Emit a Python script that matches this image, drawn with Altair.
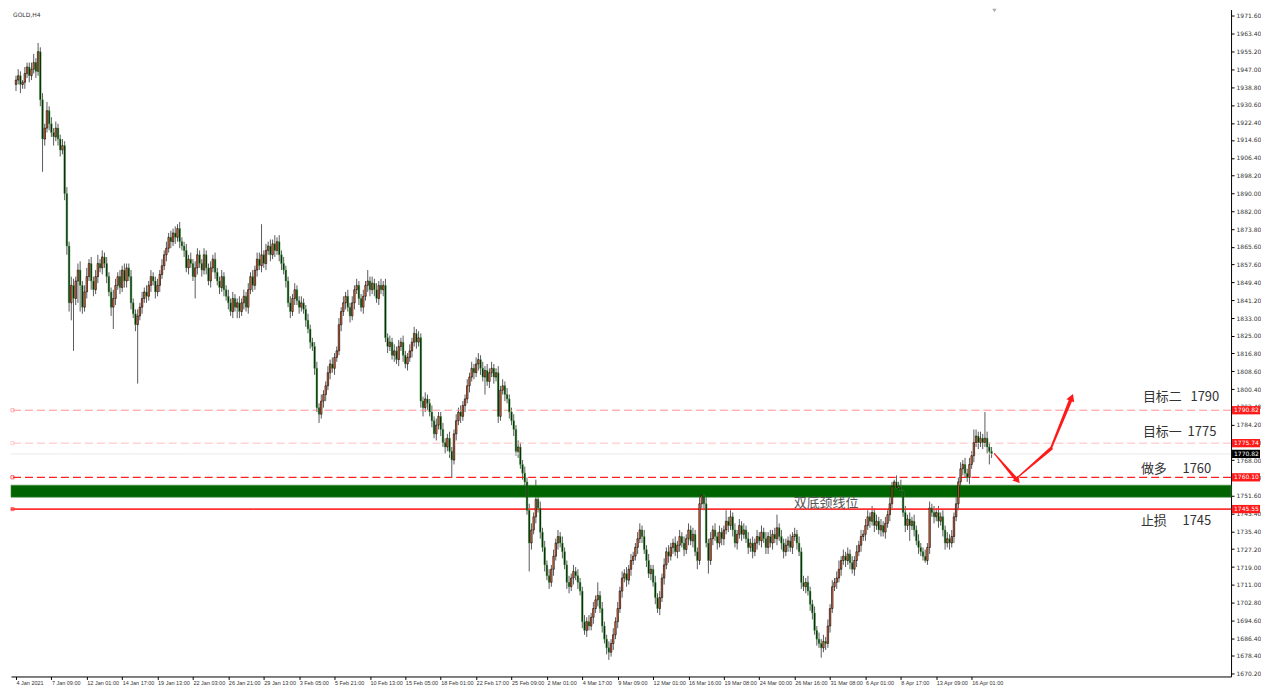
import json
import altair as alt
import pandas as pd

# ---------------- data ----------------
first_open = 1940
closes = [
    1942, 1944, 1940, 1941, 1945, 1948, 1944, 1947, 1950, 1946,
    1955, 1933, 1915, 1920, 1928, 1922, 1918, 1916, 1920, 1915,
    1910, 1912, 1890, 1866, 1840, 1848, 1842, 1850, 1855, 1848,
    1838, 1845, 1852, 1858, 1850, 1846, 1852, 1858, 1856, 1861,
    1858, 1852, 1845, 1838, 1842, 1848, 1852, 1847, 1855, 1850,
    1856, 1852, 1840, 1835, 1830, 1834, 1838, 1842, 1845, 1843,
    1848, 1852, 1850, 1845, 1848, 1853, 1857, 1862, 1865, 1870,
    1868, 1872, 1870, 1874, 1868, 1866, 1864, 1856, 1860, 1858,
    1852, 1856, 1862, 1858, 1855, 1862, 1856, 1850, 1856, 1860,
    1854, 1850, 1847, 1852, 1846, 1843, 1840, 1836, 1842, 1838,
    1840, 1836, 1840, 1843, 1838, 1846, 1852, 1848, 1855, 1860,
    1857, 1862, 1858, 1864, 1866, 1862, 1867, 1864, 1868, 1862,
    1858, 1855, 1850, 1840, 1836, 1842, 1846, 1841, 1838, 1840,
    1837, 1832, 1828, 1822, 1820, 1810, 1792, 1789, 1795, 1798,
    1802, 1808, 1812, 1810, 1815, 1818, 1830, 1836, 1840, 1843,
    1838, 1834, 1840, 1846, 1848, 1842, 1838, 1843, 1848, 1850,
    1846, 1849, 1846, 1842, 1848, 1846, 1848, 1824, 1820, 1822,
    1816, 1818, 1814, 1820, 1822, 1816, 1812, 1815, 1818, 1822,
    1826, 1822, 1824, 1795, 1792, 1796, 1794, 1790, 1786, 1780,
    1784, 1788, 1782, 1776, 1774, 1778, 1772, 1768, 1780, 1786,
    1790, 1788, 1793, 1796, 1802, 1806, 1810, 1808, 1812, 1814,
    1810, 1806, 1809, 1804, 1808, 1810, 1806, 1808, 1788, 1800,
    1802, 1798, 1796, 1790, 1786, 1782, 1772, 1774, 1766, 1762,
    1758, 1745, 1730, 1736, 1742, 1750, 1746, 1735, 1728, 1720,
    1715, 1712, 1718, 1724, 1730, 1733, 1730, 1726, 1720, 1712,
    1710, 1714, 1717, 1715, 1712, 1708, 1694, 1690, 1694, 1692,
    1696, 1700, 1704, 1706, 1700, 1692, 1686, 1682, 1680, 1684,
    1688, 1694, 1700, 1708, 1714, 1716, 1713, 1718, 1722, 1724,
    1728, 1732, 1736, 1733, 1727, 1722, 1716, 1718, 1712, 1705,
    1700, 1705, 1714, 1720, 1726, 1724, 1728, 1730, 1726, 1729,
    1733, 1730, 1727, 1732, 1736, 1731, 1734, 1726, 1722, 1748,
    1752, 1748, 1730, 1722, 1732, 1736, 1733, 1730, 1735, 1732,
    1736, 1740, 1738, 1742, 1736, 1730, 1734, 1738, 1734, 1736,
    1732, 1728, 1730, 1726, 1730, 1733, 1731, 1735, 1732, 1728,
    1733, 1730, 1734, 1732, 1737, 1733, 1730, 1726, 1729, 1731,
    1728, 1733, 1734, 1730, 1726, 1712, 1710, 1712, 1708, 1702,
    1698, 1690, 1686, 1684, 1682, 1685, 1684, 1692, 1700, 1710,
    1712, 1714, 1718, 1722, 1724, 1722, 1725, 1721, 1718, 1722,
    1726, 1729, 1733, 1734, 1738, 1742, 1740, 1744, 1738, 1740,
    1736, 1738, 1735, 1739, 1743, 1748, 1756, 1758, 1755, 1756,
    1754, 1744, 1738, 1741, 1738, 1740, 1736, 1731, 1728, 1726,
    1724, 1722, 1728, 1746, 1744, 1742, 1744, 1740, 1742, 1736,
    1730, 1732, 1730, 1733, 1742, 1748, 1758, 1764, 1766, 1762,
    1760, 1766, 1770, 1776, 1779, 1776, 1778, 1776, 1778, 1774,
    1772, 1771,
]
upper_wick = [
    2, 3, 2, 1, 3, 2, 2, 3, 4, 2,
    4, 2, 3, 2, 4, 2, 3, 2, 3, 2,
    2, 3, 2, 3, 2, 4, 3, 2, 3, 4,
    2, 3, 4, 2, 3, 2, 3, 4, 2, 3,
    2, 3, 2, 2, 4, 3, 2, 3, 2, 3,
    2, 2, 3, 2, 2, 3, 2, 3, 2, 3,
    2, 3, 2, 2, 3, 2, 3, 2, 3, 2,
    3, 2, 3, 2, 3, 2, 2, 3, 2, 3,
    2, 3, 3, 2, 2, 3, 2, 2, 3, 2,
    3, 2, 2, 3, 2, 2, 3, 2, 3, 2,
    2, 3, 2, 3, 2, 3, 2, 3, 2, 3,
    3, 14, 2, 3, 2, 3, 2, 4, 2, 3,
    2, 3, 2, 2, 3, 2, 3, 2, 2, 3,
    2, 2, 3, 2, 2, 2, 3, 2, 3, 2,
    2, 3, 2, 3, 2, 2, 3, 2, 3, 2,
    3, 2, 3, 2, 3, 2, 2, 3, 2, 5,
    2, 3, 2, 3, 2, 3, 2, 3, 2, 3,
    2, 3, 2, 3, 2, 3, 2, 2, 3, 2,
    3, 2, 3, 2, 2, 3, 2, 2, 3, 2,
    3, 2, 2, 3, 2, 2, 3, 2, 2, 3,
    2, 3, 2, 2, 3, 2, 3, 2, 3, 3,
    2, 3, 2, 3, 2, 3, 2, 2, 3, 2,
    3, 2, 3, 2, 2, 3, 2, 3, 2, 2,
    3, 2, 3, 3, 2, 9, 2, 3, 2, 3,
    2, 3, 2, 3, 2, 3, 2, 3, 2, 2,
    3, 2, 3, 2, 3, 2, 2, 3, 2, 3,
    2, 3, 2, 6, 2, 3, 2, 2, 3, 2,
    3, 2, 3, 2, 3, 2, 3, 2, 3, 2,
    2, 3, 3, 2, 3, 2, 3, 2, 2, 3,
    2, 3, 2, 3, 2, 3, 2, 2, 3, 2,
    3, 2, 3, 2, 3, 2, 3, 2, 2, 3,
    4, 2, 3, 2, 3, 2, 3, 2, 3, 2,
    2, 5, 2, 3, 2, 3, 2, 3, 2, 3,
    2, 3, 2, 3, 2, 3, 2, 3, 2, 3,
    2, 3, 2, 3, 6, 2, 3, 2, 3, 2,
    3, 2, 3, 2, 3, 2, 3, 2, 3, 2,
    2, 3, 2, 3, 2, 3, 2, 3, 2, 3,
    2, 3, 4, 2, 3, 2, 3, 2, 3, 2,
    3, 2, 3, 2, 3, 3, 2, 3, 2, 3,
    2, 3, 2, 3, 2, 3, 2, 1, 3, 2,
    3, 2, 3, 2, 3, 2, 3, 2, 3, 2,
    2, 3, 2, 3, 2, 3, 2, 3, 2, 3,
    2, 3, 2, 3, 2, 3, 2, 3, 2, 3,
    2, 3, 2, 6, 3, 2, 3, 2, 12, 3,
    2, 2,
]
lower_wick = [
    3, 2, 4, 2, 3, 2, 3, 2, 2, 3,
    2, 3, 15, 3, 2, 3, 2, 4, 2, 3,
    3, 2, 3, 4, 4, 8, 24, 3, 10, 12,
    3, 2, 3, 2, 4, 3, 2, 3, 2, 3,
    2, 3, 2, 4, 10, 3, 2, 3, 2, 3,
    3, 2, 3, 2, 3, 27, 2, 3, 2, 3,
    2, 3, 2, 3, 2, 3, 2, 2, 3, 2,
    3, 2, 3, 2, 3, 2, 3, 2, 3, 2,
    2, 10, 3, 2, 3, 2, 3, 2, 3, 2,
    3, 2, 3, 2, 3, 2, 3, 2, 3, 2,
    5, 3, 2, 3, 2, 3, 2, 3, 2, 3,
    2, 3, 2, 3, 2, 3, 2, 3, 2, 3,
    3, 2, 3, 2, 3, 2, 3, 2, 3, 2,
    2, 3, 2, 3, 2, 3, 2, 4, 2, 3,
    3, 2, 3, 2, 3, 2, 2, 3, 2, 3,
    2, 3, 2, 3, 2, 3, 2, 3, 2, 3,
    3, 2, 3, 2, 3, 2, 3, 2, 3, 2,
    2, 3, 2, 3, 2, 3, 2, 3, 2, 3,
    2, 3, 2, 3, 4, 2, 3, 2, 3, 2,
    3, 2, 3, 2, 3, 2, 3, 8, 2, 3,
    2, 3, 2, 3, 2, 3, 2, 3, 2, 3,
    3, 2, 8, 2, 3, 2, 3, 2, 3, 2,
    2, 3, 2, 3, 2, 3, 2, 3, 2, 3,
    3, 2, 13, 3, 2, 3, 2, 3, 2, 3,
    2, 3, 2, 3, 2, 3, 2, 3, 2, 3,
    3, 2, 3, 2, 3, 2, 3, 2, 3, 2,
    2, 3, 2, 3, 2, 3, 2, 3, 3.5, 2,
    3, 2, 3, 2, 3, 2, 3, 2, 3, 2,
    2, 3, 2, 3, 2, 3, 2, 3, 2, 3,
    2, 3, 2, 3, 2, 3, 2, 3, 2, 3,
    3, 2, 3, 2, 3, 2, 3, 2, 4, 2,
    2, 3, 2, 6, 2, 3, 2, 3, 2, 3,
    3, 2, 3, 2, 3, 2, 3, 2, 3, 2,
    2, 3, 2, 3, 2, 3, 2, 3, 2, 3,
    3, 2, 3, 2, 3, 2, 3, 3, 2, 3,
    2, 3, 2, 3, 2, 3, 2, 3, 2, 3,
    3, 2, 3, 2, 4.5, 2, 3, 2, 3, 2,
    2, 3, 2, 3, 2, 3, 2, 3, 2, 3,
    3, 2, 3, 2, 3, 2, 3, 2, 3, 2,
    2, 3, 2, 3, 2, 3, 2, 3, 2, 3,
    3, 2, 3, 2, 7, 2, 3, 2, 3, 2,
    2, 1, 2, 3, 2, 3, 2, 3, 2, 3,
    3, 2, 3, 2, 3, 2, 3, 2, 3, 2,
    2, 3, 2, 3, 2, 3, 2, 3, 2, 3,
    6, 2,
]

x_labels = ["4 Jan 2021", "7 Jan 09:00", "12 Jan 01:00", "14 Jan 17:00", "19 Jan 13:00",
            "22 Jan 03:00", "26 Jan 21:00", "29 Jan 13:00", "3 Feb 05:00", "5 Feb 21:00",
            "10 Feb 13:00", "15 Feb 05:00", "18 Feb 01:00", "22 Feb 17:00", "25 Feb 09:00",
            "2 Mar 01:00", "4 Mar 17:00", "9 Mar 09:00", "12 Mar 01:00", "16 Mar 16:00",
            "19 Mar 08:00", "24 Mar 00:00", "26 Mar 16:00", "31 Mar 08:00", "6 Apr 01:00",
            "8 Apr 17:00", "13 Apr 09:00", "16 Apr 01:00"]
y_ticks = [1971.6, 1963.4, 1955.2, 1947.0, 1938.8, 1930.6, 1922.4, 1914.6, 1906.4, 1898.2,
           1890.0, 1882.0, 1873.8, 1865.6, 1857.6, 1849.4, 1841.2, 1833.0, 1825.0, 1816.8,
           1808.6, 1800.4, 1792.4, 1784.2, 1776.0, 1768.0, 1759.8, 1751.6, 1743.4, 1735.4,
           1727.2, 1719.0, 1711.0, 1702.8, 1694.6, 1686.4, 1678.4, 1670.2]

level_target2 = 1790.82
level_target1 = 1775.74
level_ask = 1770.82
level_long = 1760.10
level_stop = 1745.55
band_low, band_high = 1751.0, 1756.5

box_labels = ["1790.82", "1775.74", "1770.82", "1760.10", "1745.55"]
box_prices = [1790.82, 1775.74, 1770.82, 1760.10, 1745.55]
box_colors = ["#ff1a1a", "#ff1a1a", "#000000", "#ff1a1a", "#ff1a1a"]

ann_names = ["目标二", "目标一", "做多", "止损"]
ann_values = ["1790", "1775", "1760", "1745"]
ann_prices = [1797.1, 1780.7, 1763.8, 1740.3]
ann_name_x = [509.4, 509.4, 508.5, 508.5]
ann_value_x = [530.9, 529.6, 527.3, 527.3]

arrow_seg = [1, 1, 2, 2, 3, 3]
arrow_x = [442.3, 452.0, 452.0, 467.8, 467.8, 476.7]
arrow_p = [1770.9, 1759.4, 1759.4, 1773.2, 1773.2, 1795.4]
arrow_w = [1.2, 3.5, 1.2, 3.5, 2.0, 3.5]

# ---------------- layout ----------------
W, H = 1222, 668
XMAX = 547
YMIN, YMAX = 1668.9, 1974.3

opens = [first_open] + closes[:-1]
rows = []
for i, (o, c, u, l) in enumerate(zip(opens, closes, upper_wick, lower_wick)):
    up = c >= o
    rows.append(dict(i=i, open=o, close=c, high=max(o, c) + u, low=min(o, c) - l,
                     fillc="#ef6b3a" if up else "#000000",
                     strokec="#000000" if up else "#3a9f3a"))
df = pd.DataFrame(rows)

xs = alt.Scale(domain=[0, XMAX], nice=False, zero=False)
ys = alt.Scale(domain=[YMIN, YMAX], nice=False, zero=False)

x_axis = alt.Axis(values=list(range(0, 16 * len(x_labels), 16)),
                  labelExpr=json.dumps(x_labels) + "[round(datum.value/16)]",
                  labelAlign="left", labelFontSize=5.5, labelColor="#333333",
                  labelFont="Liberation Sans", tickSize=3, tickColor="#000000",
                  domainColor="#000000", labelPadding=1, labelOverlap=False, labelFlush=False,
                  labelBound=False, grid=False, title=None)
y_axis = alt.Axis(orient="right", values=y_ticks, format=".2f", labelFontSize=6,
                  labelColor="#333333", labelFont="DejaVu Sans", tickSize=3, tickColor="#000000",
                  domainColor="#000000", labelPadding=2, labelOverlap=False, labelFlush=False,
                  labelBound=False, grid=False, title=None)


def X(field="i"):
    return alt.X(f"{field}:Q", scale=xs, axis=x_axis, title=None)


def Y(field="p"):
    return alt.Y(f"{field}:Q", scale=ys, axis=y_axis, title=None)


band = alt.Chart(pd.DataFrame({"lo": [band_low], "hi": [band_high]})).mark_rect(
    color="#006400", stroke="#3f8f3f", strokeWidth=0.6
).encode(x=alt.value(0), x2=alt.value(W), y=Y("lo"), y2="hi:Q")


def hline(price, color, dash, width):
    return alt.Chart(pd.DataFrame({"p": [price]})).mark_rule(
        color=color, strokeDash=dash, strokeWidth=width
    ).encode(y=Y())


lines = [
    hline(level_target2, "#ff9090", [8, 4], 1),
    hline(level_target1, "#ffbdbd", [8, 4], 1),
    hline(level_ask, "#e8e8e8", [1, 0], 1),
    hline(level_long, "#ff2020", [8, 4], 1.2),
    hline(level_stop, "#ff3030", [1, 0], 1.6),
]

sq = alt.Chart(pd.DataFrame({"p": [level_target2, level_target1, level_long, level_stop],
                             "c": ["#ff9090", "#ffbdbd", "#ff2020", "#ff3030"]})).mark_point(
    shape="square", size=10, filled=False, strokeWidth=1
).encode(x=alt.value(1.5), y=Y(), stroke=alt.Stroke("c:N", scale=None))

wicks = alt.Chart(df).mark_rule(color="#5a5a5a", strokeWidth=1).encode(
    x=X(), y=Y("low"), y2="high:Q",
)
bodies = alt.Chart(df).mark_bar(size=1.5, strokeWidth=0.6).encode(
    x=X(), y=Y("open"), y2="close:Q",
    fill=alt.Fill("fillc:N", scale=None), stroke=alt.Stroke("strokec:N", scale=None),
)

ann_df = pd.DataFrame({"i": ann_name_x, "p": ann_prices, "t": ann_names})
ann_v_df = pd.DataFrame({"i": ann_value_x, "p": ann_prices, "t": ann_values})
ann_text = alt.Chart(ann_df).mark_text(
    align="left", baseline="middle", fontSize=13, font="Noto Sans CJK SC", color="#333333"
).encode(x=X(), y=Y(), text="t:N")
ann_vals = alt.Chart(ann_v_df).mark_text(
    align="left", baseline="middle", fontSize=13, font="Noto Sans CJK SC", color="#333333"
).encode(x=X(), y=Y(), text="t:N")
neck = alt.Chart(pd.DataFrame({"i": [366.2], "p": [1748.3], "t": ["双底颈线位"]})).mark_text(
    align="center", baseline="middle", fontSize=13, font="Noto Sans CJK SC", color="#555555"
).encode(x=X(), y=Y(), text="t:N")

arrow_df = pd.DataFrame({"seg": arrow_seg, "i": arrow_x, "p": arrow_p, "w": arrow_w,
                         "k": list(range(len(arrow_x)))})
trail = alt.Chart(arrow_df).mark_trail(color="#ff1a1a").encode(
    x=X(), y=Y(), detail="seg:N", order="k:Q", size=alt.Size("w:Q", scale=None, legend=None)
)
head1 = alt.Chart(pd.DataFrame({"i": [452.4], "p": [1759.0]})).mark_point(
    shape="triangle", filled=True, size=60, color="#ff1a1a", opacity=1
).encode(x=X(), y=Y(), angle=alt.value(139))
head2 = alt.Chart(pd.DataFrame({"i": [477.0], "p": [1796.2]})).mark_point(
    shape="triangle", filled=True, size=70, color="#ff1a1a", opacity=1
).encode(x=X(), y=Y(), angle=alt.value(22))

box_df = pd.DataFrame({"t": box_labels, "p": box_prices, "c": box_colors,
                       "lo": [v - 1.9 for v in box_prices], "hi": [v + 1.9 for v in box_prices]})
boxes = alt.Chart(box_df).mark_rect().encode(
    x=alt.value(W + 1), x2=alt.value(W + 29), y=Y("lo"), y2="hi:Q",
    fill=alt.Fill("c:N", scale=None),
)
box_text = alt.Chart(box_df).mark_text(
    align="left", baseline="middle", fontSize=6, font="DejaVu Sans", color="#ffffff"
).encode(x=alt.value(W + 3), y=Y(), text="t:N")

title = alt.Chart(pd.DataFrame({"t": ["GOLD,H4"]})).mark_text(
    align="left", baseline="top", fontSize=6, font="DejaVu Sans", color="#333333"
).encode(x=alt.value(2), y=alt.value(2), text="t:N")
shift = alt.Chart(pd.DataFrame({"t": [1]})).mark_point(
    shape="triangle-down", filled=True, size=18, color="#aaaaaa", opacity=1
).encode(x=alt.value(985), y=alt.value(1))

chart = alt.layer(
    wicks, band, *lines, sq, bodies, ann_text, ann_vals, neck, trail, head1, head2,
    boxes, box_text, title, shift,
).properties(width=W, height=H, padding=0).configure_view(stroke=None)

chart.save("out.html", embed_options={"renderer": "svg", "actions": False})
